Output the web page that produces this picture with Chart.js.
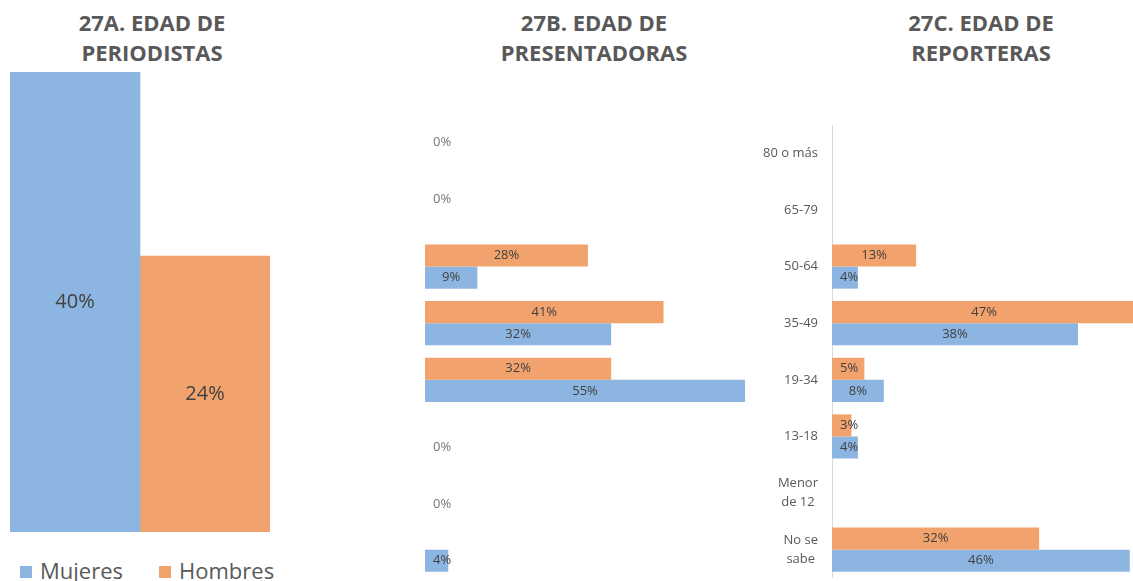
<!DOCTYPE html>
<html>
<head>
<meta charset="utf-8">
<script src="https://cdn.jsdelivr.net/npm/chart.js@4"></script>
<style>
  body { margin: 0; background: #fff; width: 1133px; height: 581px; overflow: hidden; position: relative; font-family: "Open Sans", sans-serif; }
  .titulo { position: absolute; top: 7px; width: 300px; text-align: center; font-weight: bold; font-size: 22px; line-height: 30px; color: #595959; }
  .caja { position: absolute; }
  .leyenda { position: absolute; top: 555px; left: 20px; font-size: 22px; color: #595959; line-height: 30px; white-space: nowrap; }
  .leyenda span.cuadro { display: inline-block; width: 12px; height: 12px; margin-right: 8px; vertical-align: 1px; }
</style>
</head>
<body>
<div class="titulo" style="left:2px">27A. EDAD DE<br>PERIODISTAS</div>
<div class="titulo" style="left:444px">27B. EDAD DE<br>PRESENTADORAS</div>
<div class="titulo" style="left:831px">27C. EDAD DE<br>REPORTERAS</div>

<div class="caja" style="left:10px;top:72px;width:260px;height:460px"><canvas id="graficoA"></canvas></div>
<div class="caja" style="left:425px;top:125px;width:320px;height:453px"><canvas id="graficoB"></canvas></div>
<div class="caja" style="left:750px;top:125px;width:383px;height:453px"><canvas id="graficoC"></canvas></div>

<div class="leyenda" id="leyenda"></div>

<script>
// Datos
const series = ["Mujeres", "Hombres"];
const colores = { Mujeres: "#8db5e1", Hombres: "#f2a36d" };

// 27A: edad de periodistas (total)
const periodistasMujeres = [40];
const periodistasHombres = [24];

// categorías de edad para 27B y 27C
const categoriasEdad = ["80 o más", "65-79", "50-64", "35-49", "19-34", "13-18", ["Menor", "de 12"], ["No se", "sabe"]];

// 27B: presentadoras (null = sin etiqueta)
const presentadorasHombres = [0, 0, 28, 41, 32, null, null, null];
const presentadorasMujeres = [null, null, 9, 32, 55, 0, 0, 4];

// 27C: reporteras
const reporterasHombres = [null, null, 13, 47, 5, 3, null, 32];
const reporterasMujeres = [null, null, 4, 38, 8, 4, null, 46];

// Etiquetas de datos (centradas, sin pasar del inicio de la barra)
const pluginEtiquetas = {
    id: "etiquetas",
    afterDatasetsDraw(chart, args, opts) {
        const ctx = chart.ctx;
        ctx.save();
        ctx.font = `${opts.size || 13}px "Open Sans"`;
        ctx.textBaseline = "middle";
        ctx.textAlign = "center";
        chart.data.datasets.forEach((ds, i) => {
            const meta = chart.getDatasetMeta(i);
            meta.data.forEach((bar, j) => {
                const v = ds.data[j];
                if (v === null || v === undefined) return;
                const texto = v + "%";
                const w = ctx.measureText(texto).width;
                let x, y;
                if (chart.options.indexAxis === "y") {
                    const centro = (bar.x + bar.base) / 2;
                    x = Math.max(centro, bar.base + 8 + w / 2);
                    y = bar.y;
                } else {
                    x = bar.x;
                    y = (bar.y + bar.base) / 2;
                }
                ctx.fillStyle = v === 0 ? "#767676" : "#404040";
                ctx.fillText(texto, x, y);
            });
        });
        ctx.restore();
    }
};

// Etiquetas del eje de categorías (bloque alineado a la derecha, líneas centradas)
const pluginEjeCategorias = {
    id: "ejeCategorias",
    afterDraw(chart, args, opts) {
        if (!opts.mostrar) return;
        const ctx = chart.ctx;
        const escala = chart.scales.y;
        ctx.save();
        ctx.font = '13px "Open Sans"';
        ctx.fillStyle = "#595959";
        ctx.textAlign = "center";
        ctx.textBaseline = "middle";
        chart.data.labels.forEach((lab, i) => {
            const lineas = Array.isArray(lab) ? lab : [lab];
            const ancho = Math.max(...lineas.map(l => ctx.measureText(l).width));
            const xc = chart.chartArea.left - 14 - ancho / 2;
            const yc = escala.getPixelForValue(i);
            const alto = 19;
            lineas.forEach((l, k) => {
                ctx.fillText(l, xc, yc + (k - (lineas.length - 1) / 2) * alto);
            });
        });
        ctx.restore();
    }
};

Chart.register(pluginEtiquetas, pluginEjeCategorias);

const opcionesBase = {
    responsive: true,
    maintainAspectRatio: false,
    animation: false,
    plugins: { legend: { display: false }, tooltip: { enabled: false } }
};

// 27A
new Chart(document.getElementById("graficoA"), {
    type: "bar",
    data: {
        labels: ["Periodistas"],
        datasets: [
            { label: "Mujeres", data: periodistasMujeres, backgroundColor: colores.Mujeres, categoryPercentage: 1, barPercentage: 1 },
            { label: "Hombres", data: periodistasHombres, backgroundColor: colores.Hombres, categoryPercentage: 1, barPercentage: 1 }
        ]
    },
    options: {
        ...opcionesBase,
        plugins: { ...opcionesBase.plugins, etiquetas: { size: 20 } },
        scales: {
            x: { display: false },
            y: { display: false, min: 0, max: 40 }
        }
    }
});

function graficoHorizontal(id, hombres, mujeres, maximo, conEje) {
    return new Chart(document.getElementById(id), {
        type: "bar",
        data: {
            labels: categoriasEdad,
            datasets: [
                { label: "Hombres", data: hombres, backgroundColor: colores.Hombres, categoryPercentage: 0.78, barPercentage: 1 },
                { label: "Mujeres", data: mujeres, backgroundColor: colores.Mujeres, categoryPercentage: 0.78, barPercentage: 1 }
            ]
        },
        options: {
            ...opcionesBase,
            indexAxis: "y",
            layout: { padding: { left: conEje ? 82 : 0 } },
            plugins: { ...opcionesBase.plugins, etiquetas: { size: 13 }, ejeCategorias: { mostrar: conEje } },
            scales: {
                x: { display: false, min: 0, max: maximo },
                y: {
                    display: conEje,
                    grid: { display: false, drawTicks: false },
                    border: { display: true, color: "#d9d9d9" },
                    ticks: { display: false }
                }
            }
        }
    });
}

graficoHorizontal("graficoB", presentadorasHombres, presentadorasMujeres, 55, false);
graficoHorizontal("graficoC", reporterasHombres, reporterasMujeres, 46.5, true);

// Leyenda
document.getElementById("leyenda").innerHTML = series.map((s, i) =>
    `<span style="margin-right:${i === 0 ? 36 : 0}px"><span class="cuadro" style="background:${colores[s]}"></span>${s}</span>`
).join("");
</script>
</body>
</html>
